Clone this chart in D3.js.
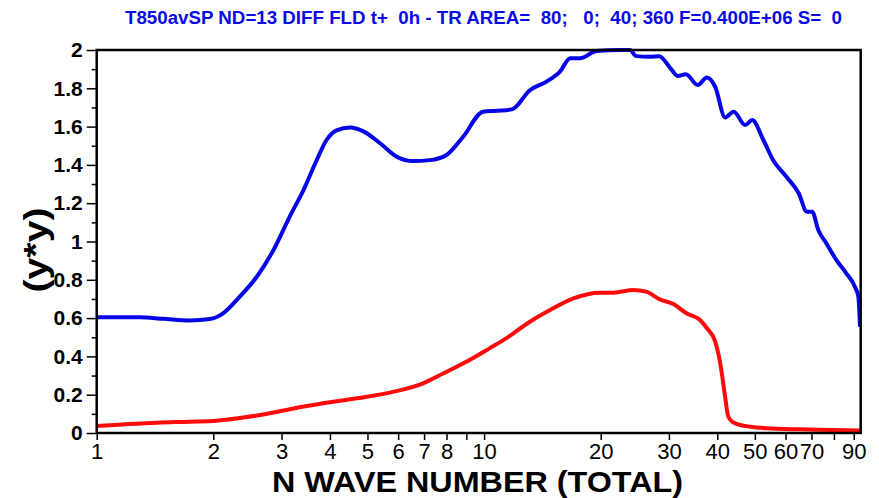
<!DOCTYPE html>
<html>
<head>
<meta charset="utf-8">
<script src="https://cdn.jsdelivr.net/npm/d3@7"></script>
<style>
  html, body { margin: 0; padding: 0; background: #fff; }
  svg { display: block; }
  text { font-family: "Liberation Sans", Arial, Helvetica, sans-serif; }
</style>
</head>
<body>
<svg id="chart" width="879" height="498"></svg>
<script>
const titleText = "T850avSP ND=13 DIFF FLD t+  0h - TR AREA=  80;   0;  40; 360 F=0.400E+06 S=  0";
const xTitle = "N WAVE NUMBER (TOTAL)";
const yTitle = "(y*y)";

const xTickValues = [1,2,3,4,5,6,7,8,9,10,20,30,40,50,60,70,80,90];
const xTickLabels = ["1","2","3","4","5","6","7","8","","10","20","30","40","50","60","70","","90"];
const yMajorTicks = [0,0.2,0.4,0.6,0.8,1,1.2,1.4,1.6,1.8,2];
const yMajorLabels = ["0","0.2","0.4","0.6","0.8","1","1.2","1.4","1.6","1.8","2"];
const yMinorTicks = [0.1,0.3,0.5,0.7,0.9,1.1,1.3,1.5,1.7,1.9];

const blueN = [1,1.29,1.49,1.74,1.96,2.12,2.34,2.59,2.86,3.15,3.42,3.70,3.92,4.16,4.51,4.88,5.39,5.95,6.56,7.24,8.00,8.83,9.94,10.77,11.8,13.13,14.5,15.7,16.7,17.7,19.5,22.4,23.8,24.7,26.7,28.3,30.5,31.6,33.2,35.6,37.6,39.5,41.9,44.1,47.2,49.2,52.6,55.7,60.3,64.9,68.1,70.3,72.9,76.5,81.2,86.1,90.6,92.5,93.4];
const blueV = [0.604,0.604,0.596,0.588,0.595,0.625,0.712,0.816,0.956,1.13,1.27,1.426,1.53,1.58,1.595,1.575,1.513,1.443,1.42,1.425,1.452,1.547,1.678,1.683,1.69,1.79,1.835,1.887,1.957,1.957,1.995,2.0,2.0,1.968,1.965,1.968,1.896,1.864,1.873,1.817,1.857,1.808,1.648,1.678,1.608,1.634,1.53,1.426,1.338,1.252,1.156,1.156,1.06,0.99,0.903,0.834,0.764,0.712,0.555];

const redN = [1,1.17,1.43,1.74,2.04,2.34,2.69,3.15,3.84,4.69,5.71,6.96,7.86,9.0,10.33,11.4,13.13,14.8,17.0,19.9,21.6,24.3,26.2,28.4,30.9,33.3,36.1,37.6,39.5,40.7,41.9,42.7,44.1,45.8,48.7,53.6,65.2,79.4,93.4];
const redV = [0.037,0.045,0.054,0.059,0.064,0.078,0.097,0.124,0.155,0.181,0.211,0.259,0.312,0.372,0.442,0.494,0.581,0.642,0.703,0.733,0.733,0.747,0.738,0.698,0.672,0.625,0.59,0.547,0.477,0.364,0.19,0.085,0.054,0.042,0.033,0.025,0.019,0.016,0.013];

const svg = d3.select("#chart");
const L = 96.7, R = 860.7, T = 50, B = 433;

const x = d3.scaleLog().domain([1, 93.8]).range([L, R]);
const y = d3.scaleLinear().domain([0, 2]).range([B, T]);

// title
svg.append("text")
  .attr("x", 125).attr("y", 24)
  .attr("fill", "#0a0ae6")
  .attr("font-size", 18).attr("font-weight", "bold")
  .attr("textLength", 717).attr("lengthAdjust", "spacingAndGlyphs")
  .style("white-space", "pre")
  .text(titleText);

// clip
svg.append("clipPath").attr("id", "clip")
  .append("rect").attr("x", L).attr("y", T - 2).attr("width", R - L).attr("height", B - T + 2);

const line = d3.line()
  .x(d => x(d[0])).y(d => y(d[1]))
  .curve(d3.curveMonotoneX);

const blue = blueN.map((n, i) => [n, blueV[i]]);
const red = redN.map((n, i) => [n, redV[i]]);

const g = svg.append("g").attr("clip-path", "url(#clip)");
g.append("path").datum(red).attr("d", line)
  .attr("fill", "none").attr("stroke", "#ff0a0a").attr("stroke-width", 4)
  .attr("stroke-linejoin", "round");
g.append("path").datum(blue).attr("d", line)
  .attr("fill", "none").attr("stroke", "#0505e6").attr("stroke-width", 4)
  .attr("stroke-linejoin", "round");

// frame
svg.append("rect").attr("x", L).attr("y", T).attr("width", R - L).attr("height", B - T)
  .attr("fill", "none").attr("stroke", "#000").attr("stroke-width", 2.5);

// y axis
const yAxis = d3.axisLeft(y).tickValues(yMajorTicks).tickSize(10)
  .tickFormat((d, i) => yMajorLabels[i]).tickPadding(4);
const ya = svg.append("g").attr("transform", `translate(${L},0)`).call(yAxis);
ya.select(".domain").remove();
ya.selectAll(".tick line").attr("stroke", "#000").attr("stroke-width", 1.5);
ya.selectAll(".tick text").attr("font-size", 21).attr("font-weight", "bold")
  .attr("fill", "#000").attr("font-family", "Liberation Sans, Arial, sans-serif");
const yMinor = d3.axisLeft(y).tickValues(yMinorTicks).tickSize(5).tickFormat("");
const ym = svg.append("g").attr("transform", `translate(${L},0)`).call(yMinor);
ym.select(".domain").remove();
ym.selectAll(".tick line").attr("stroke", "#000").attr("stroke-width", 1.5);

// x axis
const xAxis = d3.axisBottom(x).tickValues(xTickValues).tickSize(7)
  .tickFormat((d, i) => xTickLabels[i]).tickPadding(3);
const xa = svg.append("g").attr("transform", `translate(0,${B})`).call(xAxis);
xa.select(".domain").remove();
xa.selectAll(".tick line").attr("stroke", "#000").attr("stroke-width", 1.5);
xa.selectAll(".tick text").attr("font-size", 22).attr("fill", "#000")
  .attr("font-family", "Liberation Sans, Arial, sans-serif");

// axis titles
svg.append("text")
  .attr("x", 477.5).attr("y", 492)
  .attr("text-anchor", "middle")
  .attr("font-size", 30).attr("font-weight", "bold").attr("fill", "#000")
  .attr("textLength", 411).attr("lengthAdjust", "spacingAndGlyphs")
  .text(xTitle);

svg.append("text")
  .attr("transform", "translate(47,250) rotate(-90)")
  .attr("text-anchor", "middle")
  .attr("font-size", 33).attr("font-weight", "bold").attr("fill", "#000")
  .attr("textLength", 85).attr("lengthAdjust", "spacingAndGlyphs")
  .text(yTitle);
</script>
</body>
</html>
